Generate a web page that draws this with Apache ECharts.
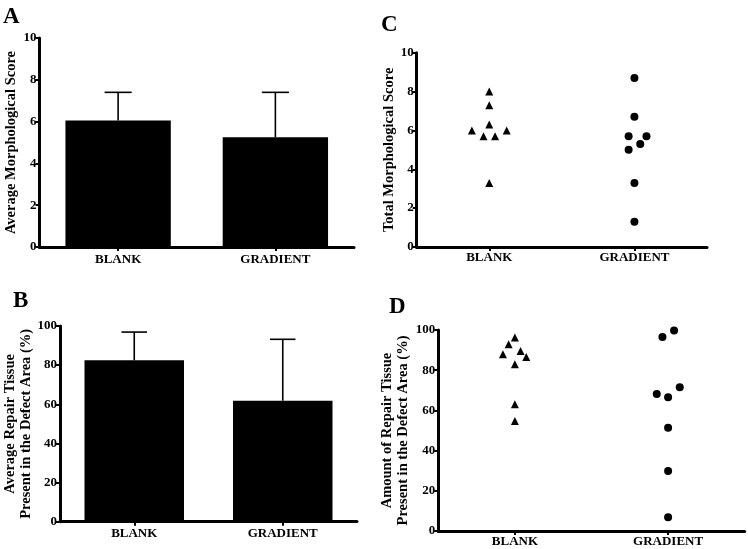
<!DOCTYPE html>
<html>
<head>
<meta charset="utf-8">
<script src="https://cdn.jsdelivr.net/npm/echarts@6/dist/echarts.min.js"></script>
<style>html,body{margin:0;padding:0;background:#fff}#c{width:748px;height:549px}</style>
</head>
<body>
<div id="c"></div>
<script>
// ---------- data ----------
const categories = ['BLANK', 'GRADIENT'];
// Panel A: average morphological score (mean, SD)
const morphMean = [6.05, 5.25];
const morphSD = [1.35, 2.15];
// Panel B: average repair tissue % (mean, SD)
const repairMean = [82.5, 61.8];
const repairSD = [14.4, 31.4];
// Panel C: individual total morphological scores
const morphBlank = [8.0, 7.3, 6.3, 6.0, 6.0, 5.7, 5.7, 3.3];
const morphBlankJitter = [0, 0, 0, -0.12, 0.12, -0.04, 0.04, 0];
const morphGrad = [8.7, 6.7, 5.7, 5.7, 5.3, 5.0, 3.3, 1.3];
const morphGradJitter = [0, 0, -0.04, 0.083, 0.04, -0.04, 0, 0];
// Panel D: individual repair tissue %
const repairBlank = [96.3, 92.9, 89.6, 87.9, 86.6, 82.9, 63.0, 54.7];
const repairBlankJitter = [0, -0.041, 0.037, -0.078, 0.074, 0, 0, 0];
const repairGrad = [99.7, 96.5, 71.5, 68.2, 66.5, 51.4, 29.9, 6.8];
const repairGradJitter = [0.039, -0.037, 0.076, -0.074, 0, 0, 0, 0];
// axis ticks
const morphTicks = { min: 0, max: 10, interval: 2 };
const repairTicks = { min: 0, max: 100, interval: 20 };

// ---------- styling ----------
const FONT = 'Liberation Serif';
const txt = { fontFamily: FONT, fontWeight: 'bold', color: '#000' };
const axisLine = { show: true, lineStyle: { color: '#000', width: 3 } };
const axisTick = { show: true, length: 4, lineStyle: { color: '#000', width: 2 } };

function yAxis(gridIndex, ticks, name, gap, lh) {
  return {
    type: 'value', gridIndex, min: ticks.min, max: ticks.max, interval: ticks.interval,
    name, nameLocation: 'middle', nameGap: gap, nameRotate: 90,
    nameTextStyle: Object.assign({ fontSize: 14.5, lineHeight: lh || 16 }, txt),
    axisLine, axisTick,
    axisLabel: Object.assign({ fontSize: 13, margin: 3 }, txt),
    splitLine: { show: false }
  };
}
function catAxis(gridIndex, margin) {
  return {
    type: 'category', gridIndex, data: categories,
    axisLine, axisTick: Object.assign({ alignWithLabel: true }, axisTick),
    axisLabel: Object.assign({ fontSize: 13, margin: margin }, txt),
    splitLine: { show: false }
  };
}
function jitterAxis(gridIndex, margin) {
  const centers = categories.map((_, i) => i + 0.5);
  return {
    type: 'value', gridIndex, min: 0, max: categories.length,
    axisLine,
    axisTick: Object.assign({ customValues: centers }, axisTick),
    axisLabel: Object.assign({
      fontSize: 13, margin: margin, customValues: centers,
      formatter: v => categories[Math.round(v - 0.5)] || ''
    }, txt),
    splitLine: { show: false }
  };
}
function errorSeries(axisIdx, means, sds) {
  return {
    type: 'custom', xAxisIndex: axisIdx, yAxisIndex: axisIdx, z: 5,
    data: means.map((m, i) => [i, m, sds[i]]),
    renderItem: function (params, api) {
      const x = api.value(0), m = api.value(1), s = api.value(2);
      const p0 = api.coord([x, m]);
      const p1 = api.coord([x, m + s]);
      const half = api.size([1, 0])[0] * 0.086;
      const st = { stroke: '#000', lineWidth: 1.6 };
      return {
        type: 'group', children: [
          { type: 'line', shape: { x1: p0[0], y1: p0[1], x2: p1[0], y2: p1[1] }, style: st },
          { type: 'line', shape: { x1: p1[0] - half, y1: p1[1], x2: p1[0] + half, y2: p1[1] }, style: st }
        ]
      };
    }
  };
}
function scatter(axisIdx, center, vals, jit, symbol, size) {
  return {
    type: 'scatter', xAxisIndex: axisIdx, yAxisIndex: axisIdx,
    symbol, symbolSize: size, itemStyle: { color: '#000', opacity: 1 },
    data: vals.map((v, i) => [center + jit[i], v])
  };
}
const titleStyle = { fontFamily: FONT, fontWeight: 'bold', fontSize: 23, color: '#000' };

const option = {
  backgroundColor: '#fff',
  animation: false,
  title: [
    { text: 'A', left: 3, top: 6, padding: 0, textStyle: titleStyle },
    { text: 'B', left: 13, top: 290, padding: 0, textStyle: titleStyle },
    { text: 'C', left: 381, top: 14, padding: 0, textStyle: titleStyle },
    { text: 'D', left: 389, top: 296, padding: 0, textStyle: titleStyle }
  ],
  grid: [
    { left: 39.5, top: 38, width: 314.5, height: 209, outerBoundsMode: 'none' },
    { left: 60, top: 326, width: 297, height: 195.7, outerBoundsMode: 'none' },
    { left: 416.7, top: 52.7, width: 290.3, height: 194.3, outerBoundsMode: 'none' },
    { left: 438.3, top: 330, width: 306.4, height: 201, outerBoundsMode: 'none' }
  ],
  xAxis: [catAxis(0, 6), catAxis(1, 5), jitterAxis(2, 4), jitterAxis(3, 4)],
  yAxis: [
    yAxis(0, morphTicks, 'Average Morphological Score', 14),
    yAxis(1, repairTicks, 'Average Repair Tissue\nPresent in the Defect Area (%)', 22, 15.5),
    yAxis(2, morphTicks, 'Total Morphological Score', 16),
    yAxis(3, repairTicks, 'Amount of Repair Tissue\nPresent in the Defect Area (%)', 23, 16.5)
  ],
  series: [
    { type: 'bar', xAxisIndex: 0, yAxisIndex: 0, data: morphMean, barWidth: '67%', itemStyle: { color: '#000' } },
    errorSeries(0, morphMean, morphSD),
    { type: 'bar', xAxisIndex: 1, yAxisIndex: 1, data: repairMean, barWidth: '67%', itemStyle: { color: '#000' } },
    errorSeries(1, repairMean, repairSD),
    scatter(2, 0.5, morphBlank, morphBlankJitter, 'triangle', 8),
    scatter(2, 1.5, morphGrad, morphGradJitter, 'circle', 8),
    scatter(3, 0.5, repairBlank, repairBlankJitter, 'triangle', 8),
    scatter(3, 1.5, repairGrad, repairGradJitter, 'circle', 8)
  ]
};
const chart = echarts.init(document.getElementById('c'), null, { renderer: 'canvas' });
chart.setOption(option);
</script>
</body>
</html>
